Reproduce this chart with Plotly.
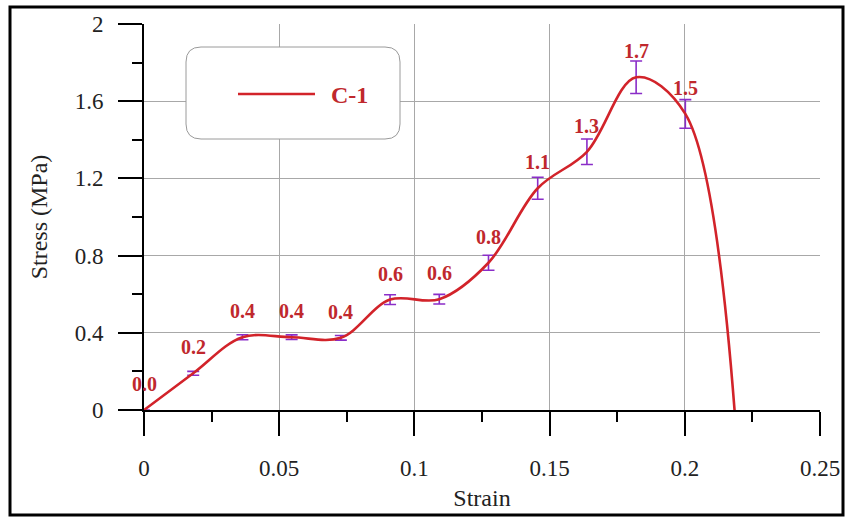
import plotly.graph_objects as go

# Measured stress-strain response of specimen C-1
series_name = "C-1"
strain = [0.0, 0.0182, 0.0364, 0.0546, 0.0728, 0.0910, 0.1092, 0.1274,
          0.1456, 0.1638, 0.1820, 0.2002, 0.2184]
stress = [0.0, 0.19, 0.377, 0.377, 0.374, 0.572, 0.574, 0.763,
          1.149, 1.338, 1.724, 1.534, 0.0]
# Scatter (± one standard deviation) for the measured points
stress_err = [0.0, 0.010, 0.013, 0.012, 0.012, 0.025, 0.025, 0.039,
              0.057, 0.066, 0.084, 0.074]

x_ticks = [0, 0.05, 0.1, 0.15, 0.2, 0.25]
x_tick_text = ["0", "0.05", "0.1", "0.15", "0.2", "0.25"]
y_ticks = [0, 0.4, 0.8, 1.2, 1.6, 2.0]
y_tick_text = ["0", "0.4", "0.8", "1.2", "1.6", "2"]

W, H = 845, 518
ML, MR, MT, MB = 144, 25, 24, 108
PW, PH = W - ML - MR, H - MT - MB

LINE_RED = "#D2232A"
LABEL_RED = "#C0282D"
BAR_PURPLE = "#8A2DC8"
FONT = "Liberation Serif, Times New Roman, serif"


def px(xpix):
    return (xpix - ML) / PW


def py(ypix):
    return (H - MB - ypix) / PH


def rounded_rect(x0, y0, x1, y1, r):
    """SVG path of a rounded rectangle given in pixel coordinates, in paper units."""
    pts = [
        f"M {px(x0 + r)},{py(y0)}",
        f"L {px(x1 - r)},{py(y0)}",
        f"Q {px(x1)},{py(y0)} {px(x1)},{py(y0 + r)}",
        f"L {px(x1)},{py(y1 - r)}",
        f"Q {px(x1)},{py(y1)} {px(x1 - r)},{py(y1)}",
        f"L {px(x0 + r)},{py(y1)}",
        f"Q {px(x0)},{py(y1)} {px(x0)},{py(y1 - r)}",
        f"L {px(x0)},{py(y0 + r)}",
        f"Q {px(x0)},{py(y0)} {px(x0 + r)},{py(y0)}",
        "Z",
    ]
    return " ".join(pts)


n_meas = len(stress_err)
meas_x = strain[:n_meas]
meas_y = stress[:n_meas]

fig = go.Figure()

# Error bars
fig.add_trace(go.Scatter(
    x=meas_x, y=meas_y, mode="markers",
    marker=dict(size=2, color="rgba(0,0,0,0)"),
    error_y=dict(type="data", array=stress_err, visible=True,
                 color=BAR_PURPLE, thickness=1.6, width=6),
    showlegend=False, hoverinfo="skip", cliponaxis=False,
))

# Smoothed stress-strain curve
fig.add_trace(go.Scatter(
    x=strain, y=stress, mode="lines", name=series_name,
    line=dict(color=LINE_RED, width=2.6, shape="spline", smoothing=1.0),
    showlegend=False, cliponaxis=False,
))

shapes = [
    # outer frame around the whole figure
    dict(type="rect", xref="paper", yref="paper",
         x0=px(10), x1=px(843), y0=py(515), y1=py(7),
         line=dict(color="black", width=3), layer="above"),
    # legend box
    dict(type="path", xref="paper", yref="paper",
         path=rounded_rect(186, 47, 400, 139, 15),
         fillcolor="white", line=dict(color="#9a9a9a", width=1), layer="above"),
    dict(type="line", xref="paper", yref="paper",
         x0=px(238), x1=px(315), y0=py(94), y1=py(94),
         line=dict(color=LINE_RED, width=2.6), layer="above"),
]

annotations = [
    dict(xref="paper", yref="paper", x=px(329), y=py(95),
         xanchor="left", yanchor="middle", showarrow=False,
         text=series_name,
         font=dict(family=FONT, size=24, color=LABEL_RED, weight="bold")),
]

# Value labels above each measured point
for xv, yv in zip(meas_x, meas_y):
    annotations.append(dict(
        x=xv, y=yv, xref="x", yref="y", text=f"{yv:.1f}",
        showarrow=False, xanchor="center", yanchor="middle", yshift=26,
        font=dict(family=FONT, size=20, color=LABEL_RED, weight="bold"),
    ))

axis_common = dict(
    showline=True, linecolor="black", linewidth=2,
    ticks="outside", tickcolor="black", tickwidth=2, ticklen=24,
    showgrid=True, gridcolor="#a8a8a8", gridwidth=1,
    zeroline=False, automargin=False,
    tickfont=dict(family=FONT, size=23, color="#222"),
    title_font=dict(family=FONT, size=24, color="#222"),
)

fig.update_layout(
    width=W, height=H,
    margin=dict(l=ML, r=MR, t=MT, b=MB),
    paper_bgcolor="white", plot_bgcolor="white",
    showlegend=False,
    shapes=shapes, annotations=annotations,
    xaxis=dict(
        range=[0, 0.25], tickvals=x_ticks, ticktext=x_tick_text,
        minor=dict(dtick=0.025, ticks="outside", ticklen=10,
                   tickwidth=2, tickcolor="black", showgrid=False),
        title=dict(text="Strain", standoff=10),
        ticklabelstandoff=12,
        **axis_common,
    ),
    yaxis=dict(
        range=[0, 2], tickvals=y_ticks, ticktext=y_tick_text,
        minor=dict(dtick=0.2, ticks="outside", ticklen=10,
                   tickwidth=2, tickcolor="black", showgrid=False),
        title=dict(text="Stress (MPa)", standoff=20),
        ticklabelstandoff=10,
        **axis_common,
    ),
)

fig.write_html("out.html")
